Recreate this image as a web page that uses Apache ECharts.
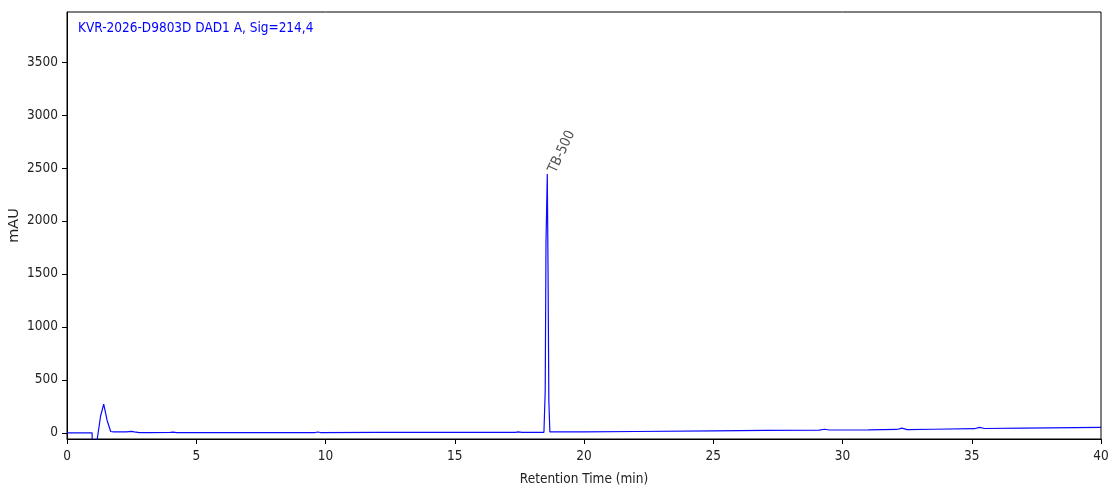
<!DOCTYPE html>
<html>
<head>
<meta charset="utf-8">
<script src="https://cdn.jsdelivr.net/npm/echarts@6/dist/echarts.min.js"></script>
<style>
  html, body { margin: 0; padding: 0; background: #fff; }
  #main { width: 1119px; height: 499px; }
</style>
</head>
<body>
<div id="main"></div>
<script type="text/javascript">
// chromatogram trace (min / mAU)
var times = [0, 0.97, 0.985, 1.15, 1.3, 1.42, 1.55, 1.69, 1.8, 2.3, 2.5, 2.6, 2.8, 3.2, 4.0, 4.1, 4.25, 6, 9.6, 9.7, 9.8, 12, 15, 17.35, 17.45, 17.6, 18.45, 18.5, 18.53, 18.58, 18.61, 18.64, 18.68, 18.75, 20, 22, 25, 27, 29.1, 29.3, 29.5, 31, 32.1, 32.3, 32.5, 33.5, 35.1, 35.3, 35.5, 37, 40];
var mAU   = [1, 1, -200, -90, 160, 273, 120, 14, 10, 10, 15, 10, 4, 3, 5, 8, 4, 4, 4, 9, 4, 5, 6, 6, 10, 6, 6, 400, 1800, 2443, 1500, 300, 10, 7, 10, 14, 20, 24, 27, 35, 28, 30, 33, 45, 31, 35, 40, 52, 42, 46, 53];
var peakTimes  = [18.58];
var peakHeights = [2443];
var peakNames  = ['TB-500'];
var yTicks = [0, 500, 1000, 1500, 2000, 2500, 3000, 3500];
var traceTitle = 'KVR-2026-D9803D DAD1 A, Sig=214,4';

var myChart = echarts.init(document.getElementById('main'));

var trace = [];
for (var i = 0; i < times.length; i++) {
    trace.push([times[i], mAU[i]]);
}
var peaks = [];
for (var j = 0; j < peakTimes.length; j++) {
    peaks.push({ name: peakNames[j], value: [peakTimes[j], peakHeights[j]] });
}

// narrow face first, the figure text is horizontally squeezed
var font = '"DejaVu Sans Condensed", "Liberation Sans Narrow", "DejaVu Sans", sans-serif';
var plain = function (v) { return String(v); };
var option = {
    animation: false,
    textStyle: { fontFamily: font },
    title: {
        text: traceTitle,
        left: 78,
        top: 21,
        padding: 0,
        textStyle: { color: '#0000ff', fontWeight: 'normal', fontSize: 13.5, fontFamily: font }
    },
    grid: {
        left: 67, right: 18, top: 12, bottom: 60,
        containLabel: false,
        outerBoundsMode: 'none',
        show: true, borderColor: '#000', borderWidth: 1
    },
    xAxis: {
        type: 'value',
        min: 0, max: 40, interval: 5,
        name: 'Retention Time (min)',
        nameLocation: 'middle',
        nameGap: 33,
        nameMoveOverlap: false,
        nameTextStyle: { color: '#222', fontSize: 13.5, fontFamily: font },
        axisLine: { show: true, onZero: false, lineStyle: { color: '#000' } },
        axisTick: { show: true, length: 5, lineStyle: { color: '#000' } },
        axisLabel: { color: '#222', fontSize: 13.5, margin: 10, fontFamily: font, formatter: plain },
        splitLine: { show: false }
    },
    yAxis: {
        type: 'value',
        min: -57, max: 3972,
        name: 'mAU',
        nameLocation: 'middle',
        nameGap: 45,
        nameMoveOverlap: false,
        nameRotate: 90,
        nameTextStyle: { color: '#222', fontSize: 14.5, fontFamily: 'DejaVu Sans' },
        axisLine: { show: true, onZero: false, lineStyle: { color: '#000' } },
        axisTick: { show: true, length: 5, customValues: yTicks, lineStyle: { color: '#000' } },
        axisLabel: { color: '#222', fontSize: 13.5, margin: 9, customValues: yTicks, fontFamily: font, formatter: plain },
        splitLine: { show: false }
    },
    series: [{
        type: 'line',
        data: trace,
        showSymbol: false,
        clip: true,
        lineStyle: { color: '#0a0aff', width: 1.2 },
        z: 3
    }, {
        type: 'scatter',
        data: peaks,
        symbolSize: 0,
        label: {
            show: true,
            formatter: '{b}',
            position: [5, -2],
            align: 'left',
            verticalAlign: 'middle',
            rotate: 65,
            color: '#222',
            fontSize: 14,
            fontFamily: font
        },
        z: 4
    }]
};

myChart.setOption(option);
</script>
</body>
</html>
